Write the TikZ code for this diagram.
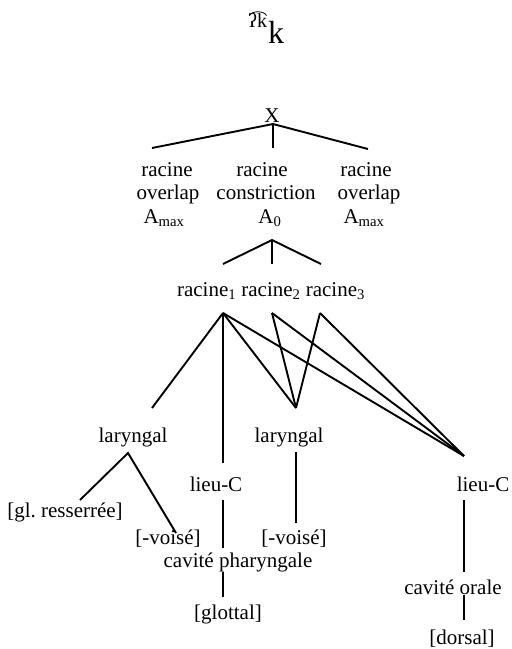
\documentclass[tikz,border=0pt]{standalone}
\usepackage{fontspec}
\setmainfont{Liberation Serif}
\frenchspacing
\begin{document}
\begin{tikzpicture}[x=1pt,y=-1pt,
  lbl/.style={inner sep=0pt, anchor=base, font=\fontsize{21}{24}\selectfont},
  edge/.style={line width=1.9pt}]
\useasboundingbox (0,0) rectangle (512,649);
% title
\node[lbl, anchor=base west, font=\fontsize{20}{22}\selectfont] (tsmall) at (248,27) {ʔk};
\node[lbl, anchor=base west, font=\fontsize{32}{34}\selectfont] (tbig) at (268,43) {k};
\coordinate (tieL) at (249.5,15.5);
\coordinate (tieR) at (266.5,15.5);
\draw[line width=0.8pt] (tieL) .. controls (252,10.5) and (264,10.5) .. (tieR);
% tier 0
\node[lbl] (X) at (272,122) {X};
% tier 1
\node[lbl] (l1) at (167,176) {racine};
\node[lbl] (l2) at (168,199.5) {overlap};
\node[lbl] (l3) at (164,223) {A\textsubscript{max}};
\node[lbl] (m1) at (262,176) {racine};
\node[lbl] (m2) at (266,199.5) {constriction};
\node[lbl] (m3) at (270,223) {A\textsubscript{0}};
\node[lbl] (r1) at (366,176) {racine};
\node[lbl] (r2) at (369,199.5) {overlap};
\node[lbl] (r3) at (364,223) {A\textsubscript{max}};
% racines
\node[lbl] (rac) at (271,296) {racine\textsubscript{1} racine\textsubscript{2} racine\textsubscript{3}};
% lower nodes
\node[lbl] (lar1) at (133,442) {laryngal};
\node[lbl] (lar2) at (289,442) {laryngal};
\node[lbl] (lieu1) at (216,491) {lieu-C};
\node[lbl] (lieu2) at (483,491) {lieu-C};
\node[lbl] (glres) at (65,517) {[gl. resserrée]};
\node[lbl] (vo1) at (168,544) {[-voisé]};
\node[lbl] (vo2) at (294,544) {[-voisé]};
\node[lbl] (cph) at (238,567) {cavité pharyngale};
\node[lbl] (glot) at (228,619) {[glottal]};
\node[lbl] (cor) at (453,594) {cavité orale};
\node[lbl] (dors) at (462,644) {[dorsal]};
% connector end points
\coordinate (Xb) at (273,124);
\coordinate (l0) at (152,148);
\coordinate (m0) at (273,148);
\coordinate (r0) at (368,149);
\coordinate (A0b) at (272,240);
\coordinate (ra1) at (223,264);
\coordinate (ra2) at (272,264);
\coordinate (ra3) at (321,264);
\coordinate (p1) at (223,313);
\coordinate (p2) at (272,313);
\coordinate (p3) at (320,313);
\coordinate (lar1t) at (152,408);
\coordinate (lar2t) at (296,408);
\coordinate (lieu1t) at (223,463);
\coordinate (lieu2t) at (464,456);
\coordinate (lar1b) at (128,453);
\coordinate (glrest) at (80,500);
\coordinate (vo1t) at (176,533);
\coordinate (lar2b) at (296,452);
\coordinate (vo2t) at (296,523);
\coordinate (lieu1b) at (223,500);
\coordinate (cpht) at (223,548);
\coordinate (cphb) at (223,572);
\coordinate (glott) at (223,597);
\coordinate (lieu2b) at (464,500);
\coordinate (cort) at (464,572);
\coordinate (corb) at (464,595);
\coordinate (dorst) at (464,620);
% connectors
\draw[edge] (l0) -- (Xb) -- (r0);
\draw[edge] (Xb) -- (m0);
\draw[edge] (ra1) -- (A0b) -- (ra3);
\draw[edge] (A0b) -- (ra2);
\draw[edge] (p1) -- (lar1t);
\draw[edge] (p1) -- (lieu1t);
\draw[edge] (p1) -- (lar2t);
\draw[edge] (p1) -- (lieu2t);
\draw[edge] (p2) -- (lar2t);
\draw[edge] (p2) -- (lieu2t);
\draw[edge] (p3) -- (lar2t);
\draw[edge] (p3) -- (lieu2t);
\draw[edge] (glrest) -- (lar1b) -- (vo1t);
\draw[edge] (lar2b) -- (vo2t);
\draw[edge] (lieu1b) -- (cpht);
\draw[edge] (cphb) -- (glott);
\draw[edge] (lieu2b) -- (cort);
\draw[edge] (corb) -- (dorst);
\end{tikzpicture}
\end{document}
